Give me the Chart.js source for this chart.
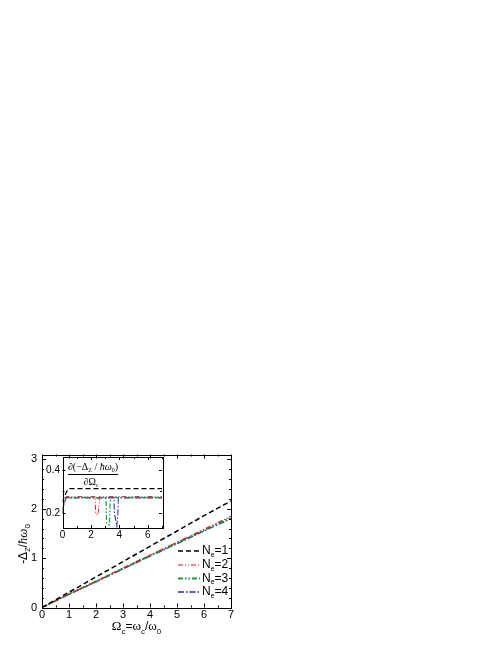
<!DOCTYPE html>
<html>
<head>
<meta charset="utf-8">
<script src="https://cdn.jsdelivr.net/npm/chart.js@4.4.1/dist/chart.umd.min.js"></script>
<style>
    html, body { margin: 0; padding: 0; background: #fff; }
    #wrap { position: relative; width: 501px; height: 649px; }
    #mainChart { position: absolute; left: 0; top: 0; }
    #insetChart { position: absolute; left: 30px; top: 445px; }
</style>
</head>
<body>
<div id="wrap">
    <canvas id="mainChart" width="501" height="649"></canvas>
    <canvas id="insetChart" width="140" height="100"></canvas>
</div>
<script>
// Main plot: -Delta_Z / hbar omega_0 vs Omega_c
const omegaC = [0, 1, 2, 3, 4, 5, 6, 7];
const deltaNe1 = [0, 0.31, 0.62, 0.93, 1.24, 1.55, 1.86, 2.16];
const deltaNe2 = [0, 0.27, 0.53, 0.80, 1.06, 1.32, 1.58, 1.85];
const deltaNe3 = [0, 0.27, 0.53, 0.79, 1.05, 1.31, 1.57, 1.82];
const deltaNe4 = [0, 0.27, 0.52, 0.78, 1.04, 1.29, 1.55, 1.80];
const legendNe = ['1', '2', '3', '4'];

// Inset: derivative d(-Delta_Z)/dOmega_c
const derivNe1X = [0, 0.15, 0.4, 7];
const derivNe1Y = [0.25, 0.28, 0.313, 0.313];
const derivNe2X = [0, 0.1, 0.25, 2.3, 2.33, 2.5, 2.58, 2.6, 7];
const derivNe2Y = [0.21, 0.245, 0.276, 0.276, 0.195, 0.192, 0.25, 0.276, 0.276];
const derivNe3X = [0, 0.1, 0.25, 3.07, 3.1, 3.3, 3.35, 3.38, 7];
const derivNe3Y = [0.215, 0.245, 0.271, 0.271, 0.15, 0.145, 0.24, 0.271, 0.271];
const derivNe4X = [0, 0.1, 0.25, 3.62, 3.65, 3.82, 3.9, 3.93, 7];
const derivNe4Y = [0.2, 0.24, 0.27, 0.27, 0.2, 0.137, 0.2, 0.27, 0.27];

const SANS = '"Liberation Sans", Arial, sans-serif';
const SERIF = '"Liberation Serif", "Times New Roman", serif';

const lineStyles = [
    { color: '#000000', dash: [5, 3], width: 1.5 },
    { color: '#e8141c', dash: [5, 2, 1, 2, 1, 2], width: 1.2 },
    { color: '#12a040', dash: [5, 2, 1.5, 2, 1.5, 2], width: 2 },
    { color: '#2a2aa8', dash: [6, 2, 1.5, 2], width: 1.3 }
];

const toPoints = (xs, ys) => xs.map((x, i) => ({ x: x, y: ys[i] }));

function makeDataset(label, xs, ys, style, widthScale = 1) {
    return {
        label: label,
        data: toPoints(xs, ys),
        borderColor: style.color,
        borderDash: style.dash,
        borderWidth: style.width * widthScale,
        pointRadius: 0,
        tension: 0,
        fill: false
    };
}

// Draw a run of text pieces [text, font, dy] in one line
function drawRich(ctx, parts, x, y, align) {
    let w = 0;
    parts.forEach(p => { ctx.font = p[1]; w += ctx.measureText(p[0]).width; });
    let cx = align === 'center' ? x - w / 2 : x;
    parts.forEach(p => {
        ctx.font = p[1];
        ctx.fillText(p[0], cx, y + (p[2] || 0));
        cx += ctx.measureText(p[0]).width;
    });
    return w;
}

// Box frame + inward major/minor ticks on all four sides
const frameTicks = {
    id: 'frameTicks',
    afterDatasetsDraw(chart, args, opts) {
        const { ctx, chartArea: a } = chart;
        const xs = chart.scales.x, ys = chart.scales.y;
        const isMajor = (v, step) => Math.abs(v / step - Math.round(v / step)) < 1e-6;
        ctx.save();
        ctx.strokeStyle = '#000';
        ctx.lineWidth = 1;
        ctx.beginPath();
        for (let k = Math.ceil(xs.min / opts.xMinor - 1e-9); k * opts.xMinor <= xs.max + 1e-9; k++) {
            const v = k * opts.xMinor;
            const px = Math.round(xs.getPixelForValue(v)) + 0.5;
            const len = isMajor(v, opts.xMajor) ? opts.major : opts.minor;
            ctx.moveTo(px, a.bottom); ctx.lineTo(px, a.bottom - len);
            ctx.moveTo(px, a.top); ctx.lineTo(px, a.top + len);
        }
        for (let k = Math.ceil(ys.min / opts.yMinor - 1e-9); k * opts.yMinor <= ys.max + 1e-9; k++) {
            const v = k * opts.yMinor;
            const py = Math.round(ys.getPixelForValue(v)) + 0.5;
            const len = isMajor(v, opts.yMajor) ? opts.major : opts.minor;
            ctx.moveTo(a.left, py); ctx.lineTo(a.left + len, py);
            ctx.moveTo(a.right, py); ctx.lineTo(a.right - len, py);
        }
        ctx.stroke();
        ctx.strokeRect(Math.round(a.left) + 0.5, Math.round(a.top) + 0.5,
            Math.round(a.right - a.left), Math.round(a.bottom - a.top));
        ctx.restore();
    }
};

// Axis titles and legend of the main plot
const mainText = {
    id: 'mainText',
    afterDraw(chart) {
        const { ctx, chartArea: a } = chart;
        ctx.save();
        ctx.fillStyle = '#000';
        ctx.textBaseline = 'middle';

        // x title
        drawRich(ctx, [
            ['Ω', '13px ' + SERIF], ['c', '8px ' + SANS, 5],
            ['=', '12px ' + SANS],
            ['ω', '13px ' + SERIF], ['c', '8px ' + SANS, 5],
            ['/', '12px ' + SANS],
            ['ω', '13px ' + SERIF], ['0', '8px ' + SANS, 5]
        ], (a.left + a.right) / 2, 627, 'center');

        // y title
        ctx.save();
        ctx.translate(24, 544);
        ctx.rotate(-Math.PI / 2);
        drawRich(ctx, [
            ['-Δ', '12px ' + SANS], ['Z', '7px ' + SANS, 4],
            ['/', '12px ' + SANS],
            ['ħω', 'italic 13px ' + SERIF], ['0', '8px ' + SANS, 4]
        ], 0, 0, 'center');
        ctx.restore();

        // legend
        const rows = [551, 565, 578.5, 592];
        chart.data.datasets.forEach((ds, i) => {
            const y = rows[i];
            ctx.save();
            ctx.strokeStyle = ds.borderColor;
            ctx.lineWidth = ds.borderWidth;
            ctx.setLineDash(ds.borderDash);
            ctx.beginPath();
            ctx.moveTo(178, y);
            ctx.lineTo(200, y);
            ctx.stroke();
            ctx.restore();
            drawRich(ctx, [
                ['N', '12px ' + SANS], ['e', '7px ' + SANS, 4], ['=' + legendNe[i], '12px ' + SANS]
            ], 202, y, 'left');
        });
        ctx.restore();
    }
};

// Fraction label inside the inset
const insetText = {
    id: 'insetText',
    afterDraw(chart) {
        const { ctx } = chart;
        ctx.save();
        ctx.fillStyle = '#000';
        ctx.textBaseline = 'middle';
        const w = drawRich(ctx, [
            ['∂(−Δ', '10px ' + SERIF], ['Z', '6px ' + SERIF, 3],
            [' / ', '10px ' + SERIF],
            ['ħω', 'italic 10px ' + SERIF], ['0', '6px ' + SERIF, 3],
            [')', '10px ' + SERIF]
        ], 63, 22, 'center');
        ctx.strokeStyle = '#000';
        ctx.lineWidth = 1;
        ctx.beginPath();
        ctx.moveTo(63 - w / 2, 29.5);
        ctx.lineTo(63 + w / 2, 29.5);
        ctx.stroke();
        drawRich(ctx, [
            ['∂Ω', '10px ' + SERIF], ['c', '6px ' + SERIF, 3]
        ], 61, 37, 'center');
        ctx.restore();
    }
};

const hiddenGrid = { display: false, drawTicks: false, tickLength: 0 };

new Chart(document.getElementById('mainChart'), {
    type: 'line',
    data: {
        datasets: [
            makeDataset('Ne=1', omegaC, deltaNe1, lineStyles[0]),
            makeDataset('Ne=2', omegaC, deltaNe2, lineStyles[1]),
            makeDataset('Ne=3', omegaC, deltaNe3, lineStyles[2]),
            makeDataset('Ne=4', omegaC, deltaNe4, lineStyles[3])
        ]
    },
    options: {
        responsive: false,
        animation: false,
        layout: { padding: { left: 20, right: 270, top: 454.5, bottom: 21.5 } },
        plugins: {
            legend: { display: false },
            tooltip: { enabled: false },
            frameTicks: { xMajor: 1, xMinor: 0.5, yMajor: 1, yMinor: 0.2, major: 4, minor: 2 }
        },
        scales: {
            x: {
                type: 'linear', min: 0, max: 7,
                grid: hiddenGrid,
                border: { display: false },
                ticks: { stepSize: 1, padding: 1, color: '#000', font: { family: SANS, size: 11 }, maxRotation: 0 },
                afterFit: s => { s.height = 20; }
            },
            y: {
                type: 'linear', min: 0, max: 3.1,
                grid: hiddenGrid,
                border: { display: false },
                ticks: { stepSize: 1, includeBounds: false, padding: 5, color: '#000', font: { family: SANS, size: 11 } },
                afterFit: s => { s.width = 22; }
            }
        }
    },
    plugins: [frameTicks, mainText]
});

new Chart(document.getElementById('insetChart'), {
    type: 'line',
    data: {
        datasets: [
            makeDataset('Ne=1', derivNe1X, derivNe1Y, lineStyles[0], 0.8),
            makeDataset('Ne=2', derivNe2X, derivNe2Y, lineStyles[1], 0.8),
            makeDataset('Ne=3', derivNe3X, derivNe3Y, lineStyles[2], 0.6),
            makeDataset('Ne=4', derivNe4X, derivNe4Y, lineStyles[3], 0.8)
        ]
    },
    options: {
        responsive: false,
        animation: false,
        layout: { padding: { left: 12.5, right: 8, top: 12, bottom: 5 } },
        plugins: {
            legend: { display: false },
            tooltip: { enabled: false },
            frameTicks: { xMajor: 2, xMinor: 1, yMajor: 0.2, yMinor: 0.1, major: 3, minor: 2 }
        },
        scales: {
            x: {
                type: 'linear', min: 0, max: 7,
                grid: hiddenGrid,
                border: { display: false },
                ticks: { stepSize: 2, includeBounds: false, padding: 1, color: '#000', font: { family: SANS, size: 10 }, maxRotation: 0 },
                afterFit: s => { s.height = 12; }
            },
            y: {
                type: 'linear', min: 0.13, max: 0.46,
                grid: hiddenGrid,
                border: { display: false },
                ticks: { stepSize: 0.2, includeBounds: false, padding: 2.5, color: '#000', font: { family: SANS, size: 10 },
                    callback: v => v.toFixed(1) },
                afterFit: s => { s.width = 20; }
            }
        }
    },
    plugins: [frameTicks, insetText]
});
</script>
</body>
</html>
